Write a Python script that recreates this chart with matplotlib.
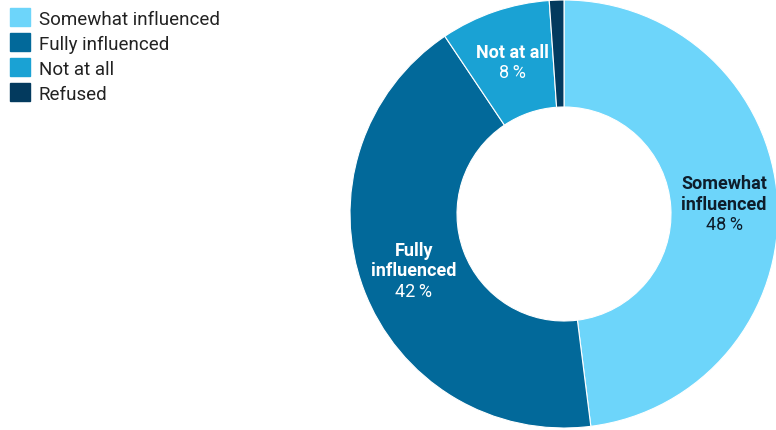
import matplotlib.pyplot as plt
import matplotlib.patches as mpatches
import matplotlib.transforms as mtransforms
import numpy as np

labels = ["Somewhat influenced", "Fully influenced", "Not at all", "Refused"]
values = [48.0, 42.6, 8.3, 1.1]
colors = ["#6dd5fa", "#02699a", "#1aa2d4", "#033a5e"]
inner_names = [["Somewhat", "influenced"], ["Fully", "influenced"], ["Not at all"], None]
inner_pcts = ["48\u2009%", "42\u2009%", "8\u2009%", None]
text_colors = ["#0e1d2b", "white", "white", None]

plt.rcParams['font.family'] = ['Roboto', 'DejaVu Sans']

fig = plt.figure(figsize=(7.76, 4.31), dpi=100)
ax = fig.add_axes([(563 - 213) / 776, (216 - 214) / 431, 428 / 776, 428 / 431])

wedges, _ = ax.pie(values, colors=colors, startangle=90, counterclock=False,
                   radius=1.0, wedgeprops=dict(width=0.5, edgecolor="white", linewidth=0.8))
ax.set_xlim(-1, 1)
ax.set_ylim(-1, 1)
ax.set_aspect("equal")
ax.axis("off")

line_h = 20.5
for w, name, pct, tc in zip(wedges, inner_names, inner_pcts, text_colors):
    if name is None:
        continue
    mid = np.deg2rad((w.theta1 + w.theta2) / 2)
    x, y = 0.75 * np.cos(mid), 0.75 * np.sin(mid)
    lines = [(n, "bold") for n in name] + [(pct, "normal")]
    n = len(lines)
    for i, (txt, weight) in enumerate(lines):
        dy = -(i - (n - 1) / 2) * line_h
        tr = mtransforms.offset_copy(ax.transData, fig=fig, x=0, y=dy, units="dots")
        ax.text(x, y, txt, transform=tr, ha="center", va="center", fontsize=13,
                fontweight=weight, color=tc)

handles = [mpatches.Patch(color=c, label=l) for c, l in zip(colors, labels)]
fig.legend(handles=handles, loc="upper left", bbox_to_anchor=(-0.007, 1.013), frameon=False,
           fontsize=13.5, handlelength=1.1, handleheight=1.1, handletextpad=0.45,
           labelspacing=0.3, borderaxespad=0.4, labelcolor="#222222")

fig.savefig("out.png", dpi=100)
